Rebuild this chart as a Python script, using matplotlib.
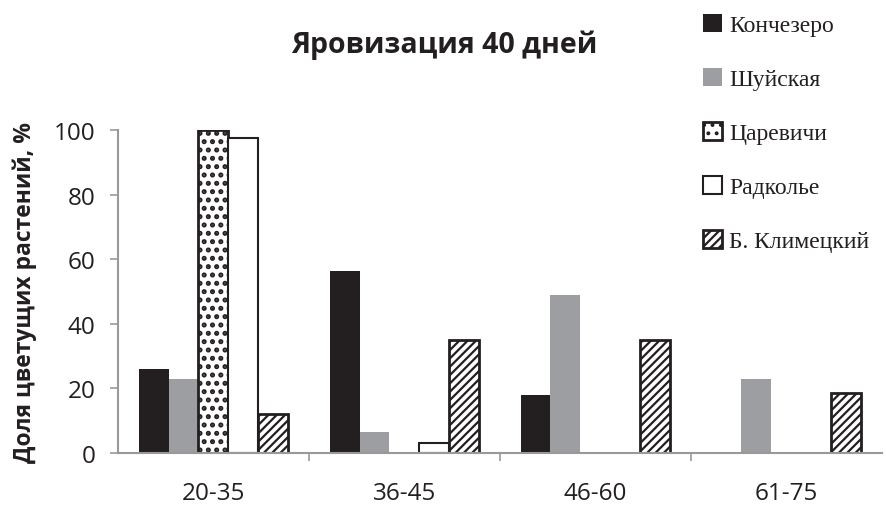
import numpy as np
import matplotlib.pyplot as plt
import matplotlib as mpl

groups = ["20-35", "36-45", "46-60", "61-75"]
konchezero = [26, 56.5, 18, 0]
shuyskaya = [23, 6.5, 49, 23]
tsarevichi = [100, 0, 0, 0]
radkolye = [97.5, 3, 0, 0]
klimetsky = [12, 35, 35, 18.5]

names = ["Кончезеро", "Шуйская", "Царевичи", "Радколье", "Б. Климецкий"]
series = [konchezero, shuyskaya, tsarevichi, radkolye, klimetsky]

styles = [
    dict(color="#231f20", edgecolor="#231f20", linewidth=0),
    dict(color="#9d9ea1", edgecolor="#9d9ea1", linewidth=0),
    dict(facecolor="white", edgecolor="#231f20", hatch="..", linewidth=2),
    dict(facecolor="white", edgecolor="#231f20", linewidth=1.5),
    dict(facecolor="white", edgecolor="#231f20", hatch="////", linewidth=2),
]
# толщина штриховки: точки толще, косые линии тоньше
hatch_lw = [1.0, 1.0, 2.4, 1.0, 1.6]

fig = plt.figure(figsize=(8.86, 5.10), dpi=100)
ax = fig.add_axes([0.133, 0.11, 0.862, 0.633])

x = np.arange(len(groups))
w = 0.156
handles = []
for i, (vals, st) in enumerate(zip(series, styles)):
    mpl.rcParams['hatch.linewidth'] = hatch_lw[i]
    keep = [v > 0 for v in vals]
    xs = x[keep] + (i - 2) * w
    hs = [v for v in vals if v > 0]
    ax.bar(xs, hs, width=w, **st)
    handles.append(mpl.patches.Patch(**st))

ax.set_xlim(-0.5, 3.5)
ax.set_ylim(0, 100)
ax.set_yticks([0, 20, 40, 60, 80, 100])
ax.set_xticks(x)
ax.set_xticklabels(groups)
ax.set_xticks([0.5, 1.5, 2.5], minor=True)
ax.tick_params(axis="x", which="major", length=0, pad=20)
ax.tick_params(axis="x", which="minor", length=6, color="#999999", width=1.2)
ax.tick_params(axis="y", length=6, color="#999999", width=1.2, pad=10)
for lab in ax.get_xticklabels() + ax.get_yticklabels():
    lab.set_fontfamily("Open Sans")
    lab.set_fontsize(17.5)
    lab.set_color("#231f20")

for s in ["top", "right"]:
    ax.spines[s].set_visible(False)
for s in ["left", "bottom"]:
    ax.spines[s].set_color("#999999")
    ax.spines[s].set_linewidth(1.5)

ax.set_ylabel("Доля цветущих растений, %", fontfamily="Open Sans",
              fontweight="bold", fontsize=16.5, color="#231f20", labelpad=12)
fig.text(0.502, 0.912, "Яровизация 40 дней", ha="center", va="center",
         fontfamily="Open Sans", fontweight="bold", fontsize=20.5, color="#231f20")

leg = fig.legend(handles, names, loc="upper left", bbox_to_anchor=(0.77, 1.012),
                 frameon=False, labelspacing=1.34, handlelength=0.8,
                 handleheight=0.8, handletextpad=0.3,
                 prop={"family": "Liberation Serif", "size": 17})
for t in leg.get_texts():
    t.set_color("#231f20")

fig.savefig("out.png", dpi=100)
